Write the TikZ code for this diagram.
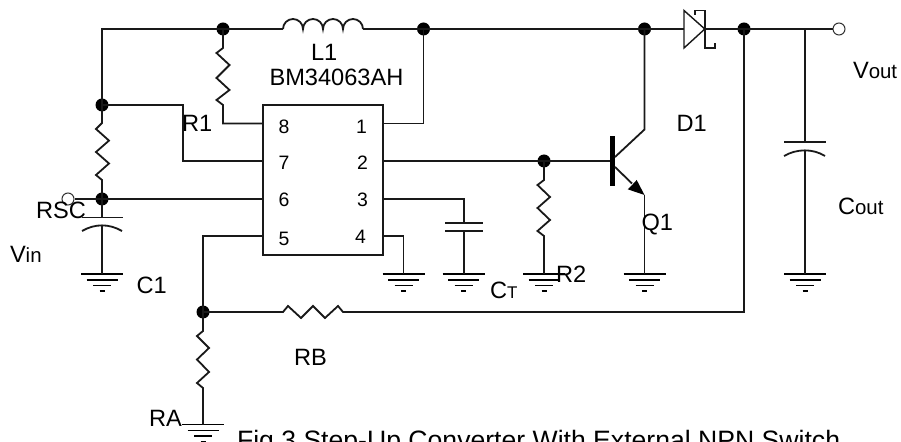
\documentclass[tikz,border=0pt]{standalone}
\usepackage{fontspec}
\setmainfont{Liberation Sans}
\newcommand{\bigf}{\fontsize{23.7}{26}\selectfont}
\newcommand{\midf}{\fontsize{19.5}{22}\selectfont}
\tikzset{
  wire/.style={line width=1.8bp,line join=miter,black!90!white},
  thinw/.style={line width=1.4bp,black!90!white},
  dot/.style={circle,fill=black,inner sep=0pt,minimum size=13bp},
  term/.style={circle,draw=black!80!white,fill=white,line width=1bp,inner sep=0pt,minimum size=12bp},
  lab/.style={anchor=base west,inner sep=0pt,outer sep=0pt,font=\bigf},
  pinlab/.style={anchor=base west,inner sep=0pt,outer sep=0pt,font=\midf},
  icbox/.style={draw,line width=1.8bp,black!90!white,inner sep=0pt,minimum width=120bp,minimum height=150bp},
}
% ground symbol at a named coordinate
\newcommand{\gndsym}[1]{%
  \draw[line width=1.5bp] ([xshift=-21bp]#1) -- ([xshift=21bp]#1);
  \draw[line width=1.5bp] ([xshift=-15.5bp,yshift=-6bp]#1) -- ([xshift=15.5bp,yshift=-6bp]#1);
  \draw[line width=1.5bp] ([xshift=-9bp,yshift=-11.5bp]#1) -- ([xshift=9bp,yshift=-11.5bp]#1);
  \draw[line width=1.5bp] ([xshift=-2.5bp,yshift=-17bp]#1) -- ([xshift=2.5bp,yshift=-17bp]#1);
}
\begin{document}
\begin{tikzpicture}[x=1bp,y=-1bp]
\useasboundingbox (0,0) rectangle (901,442);
\clip (0,0) rectangle (901,442);
% IC
\node[icbox] (ic) at (323,180) {};
\coordinate (p8) at (263,123.5); \coordinate (p7) at (263,161); \coordinate (p6) at (263,199); \coordinate (p5) at (263,236);
\coordinate (p1) at (383,123.5); \coordinate (p2) at (383,161); \coordinate (p3) at (383,199); \coordinate (p4) at (383,236);
% junctions
\node[dot] (jTL) at (223,29) {};
\node[dot] (jTR) at (423.5,29) {};
\node[dot] (jC) at (644.5,29) {};
\node[dot] (jD) at (744,29) {};
\node[dot] (jL1) at (102,105) {};
\node[dot] (jL2) at (102,199) {};
\node[dot] (jB) at (544,161) {};
\node[dot] (jFB) at (203,312) {};
\coordinate (corner) at (102,29);
\node[term] (vin) at (68,199) {};
\node[term] (vout) at (839,29) {};
% grounds
\coordinate (g1) at (102,274); \coordinate (g4) at (403.5,274); \coordinate (g3) at (463.7,274);
\coordinate (g2) at (544,274); \coordinate (gQ) at (644.5,274); \coordinate (gO) at (805,274);
\coordinate (gA) at (203,424.7);
\foreach \g in {g1,g4,g3,g2,gQ,gO,gA}{\gndsym{\g}}
% top rail and inductor
\coordinate (la) at (283,29); \coordinate (lb) at (363,29);
\draw[wire] (jL1.center) -- (corner) -- (jTL.center) -- (la);
\draw[wire] (la) arc[start angle=180,end angle=0,radius=10bp]
  arc[start angle=180,end angle=0,radius=10bp]
  arc[start angle=180,end angle=0,radius=10bp]
  arc[start angle=180,end angle=0,radius=10bp];
\draw[wire] (lb) -- (jTR.center) -- (jC.center);
% diode
\coordinate (da) at (684,29); \coordinate (dk) at (704.8,29);
\draw[wire] (jC.center) -- (da);
\draw[thinw,line join=miter] (684,10.5) -- (684,48) -- (dk) -- cycle;
\draw[thinw] (695,15) -- (695,10.5) -- (704.8,10.5) -- (704.8,48) -- (715,48) -- (715,43);
\draw[wire] (dk) -- (jD.center) -- (vout.west);
% R1
\draw[wire] (jTL.center) -- (223,48) -- (216.5,53) -- (229.5,65) -- (216.5,78) -- (229.5,90) -- (216.5,100) -- (223,105) -- (223,123.5) -- (p8);
% pin 1
\draw[wire] (p1) -- (423.5,123.5) -- (jTR.center);
% pin 7
\draw[wire] (p7) -- (183,161) -- (183,105) -- (jL1.center);
% RSC
\draw[wire] (jL1.center) -- (102,123) -- (96,129) -- (109,140.6) -- (96,152) -- (109,163.5) -- (96,175) -- (102,180) -- (jL2.center);
% pin 6
\draw[wire] (p6) -- (jL2.center) -- (vin.east);
% C1
\coordinate (c1a) at (102,217.5); \coordinate (c1b) at (102,225);
\draw[wire] (jL2.center) -- (c1a);
\draw[wire] (82,217.5) -- (123,217.5);
\draw[wire] (82,231) .. controls (95,223.5) and (109,223.5) .. (122,231);
\draw[wire] (c1b) -- (g1);
% pin 2 base
\coordinate (base) at (610,161);
\draw[wire] (p2) -- (jB.center) -- (base);
% R2
\draw[wire] (jB.center) -- (544,180) -- (537.5,185) -- (550,197) -- (537.5,208) -- (550,220) -- (537.5,231) -- (544,236) -- (g2);
% pin 3 CT
\coordinate (cta) at (463.7,223); \coordinate (ctb) at (463.7,231);
\draw[wire] (p3) -- (463.7,199) -- (cta);
\draw[wire] (445,223) -- (482.5,223);
\draw[wire] (445,231) -- (482.5,231);
\draw[wire] (ctb) -- (g3);
% pin 4
\draw[wire] (p4) -- (403.5,236) -- (g4);
% pin 5 and feedback
\coordinate (rba) at (283,312); \coordinate (fbr) at (744,312);
\draw[wire] (p5) -- (203,236) -- (jFB.center) -- (rba) -- (288,306) -- (301,318) -- (313,306) -- (325,318) -- (338,306) -- (343,312) -- (fbr) -- (jD.center);
% RA
\draw[wire] (jFB.center) -- (203,331) -- (197,336) -- (209,348) -- (197,359.5) -- (209,372) -- (197,383) -- (203,388) -- (gA);
% transistor
\coordinate (qc) at (644.5,129.5); \coordinate (qe) at (644.5,195);
\fill[black] (609.5,136) rectangle (615,186);
\draw[wire] (jC.center) -- (qc) -- (615,157);
\draw[wire] (615,167) -- (632,183.5);
\fill[black] (qe) -- (627.7,189.3) -- (633,184) -- (636.7,180) -- cycle;
\draw[wire] (qe) -- (gQ);
% Cout
\coordinate (coa) at (805,142.3); \coordinate (cob) at (805,150);
\draw[wire] (805,29) -- (coa);
\draw[wire] (784,142.3) -- (826,142.3);
\draw[wire] (784,156) .. controls (797,148.5) and (813,148.5) .. (825,156);
\draw[wire] (cob) -- (gO);
% labels
\node[lab] (tL1) at (311,61) {L1};
\node[lab] (tIC) at (269.5,86) {BM34063AH};
\node[lab] (tR1) at (182,131.7) {R1};
\node[pinlab] (t8) at (278.5,133.5) {8};
\node[pinlab] (t7) at (278.5,170) {7};
\node[pinlab] (t6) at (278.5,206.5) {6};
\node[pinlab] (t5) at (278.5,246) {5};
\node[pinlab] (t1) at (356,134) {1};
\node[pinlab] (t2) at (357,170) {2};
\node[pinlab] (t3) at (357,206.5) {3};
\node[pinlab] (t4) at (355,243.7) {4};
\node[lab] (tRSC) at (36,218.7) {RSC};
\node[lab] (tVin) at (10,263) {V{\fontsize{20.5}{22}\selectfont in}};
\node[lab] (tC1) at (136.5,294) {C1};
\node[lab] (tRB) at (294,366) {RB};
\node[lab] (tRA) at (149,426.7) {RA};
\node[lab] (tCT) at (490,298.7) {C{\fontsize{17}{20}\selectfont T}};
\node[lab] (tR2) at (556,282.7) {R2};
\node[lab] (tQ1) at (641.5,231) {Q1};
\node[lab] (tD1) at (676.5,131.7) {D1};
\node[lab] (tVout) at (853,79) {V{\fontsize{20.5}{22}\selectfont out}};
\node[lab] (tCout) at (838,215) {C{\fontsize{20.5}{22}\selectfont out}};
\node[lab,font=\fontsize{26.7}{28}\selectfont] (tCap) at (237,449.5) {Fig 3 Step-Up Converter With External NPN Switch};
\end{tikzpicture}
\end{document}
